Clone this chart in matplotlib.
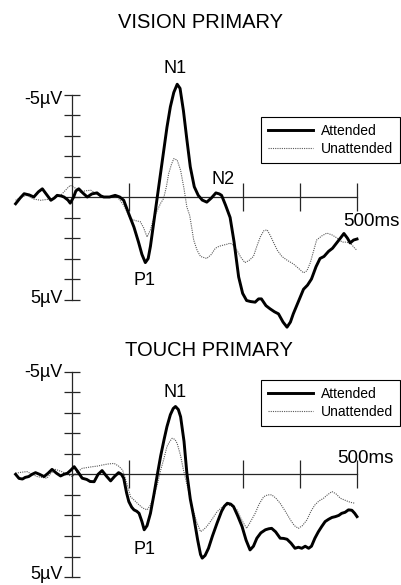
import numpy as np
import matplotlib
matplotlib.use("Agg")
import matplotlib.pyplot as plt

plt.rcParams['font.family'] = ['Liberation Sans', 'DejaVu Sans']

# ---- ERP waveforms (time in ms, amplitude in microvolts, negative up) ----
vis_att_t = [-100, -92, -85, -76, -68, -60, -53, -45, -38, -32, -27, -20, -15, -8, -4,
             2, 6, 11, 18, 26, 34, 43, 50, 55, 65, 75, 83, 90, 100, 108, 116, 122,
             128, 133, 137, 143, 149, 155, 161, 166, 172, 178, 184, 189, 195, 201,
             207, 214, 221, 228, 236, 244, 252, 258, 262, 269, 277, 284, 292, 299,
             306, 313, 321, 327, 332, 340, 347, 355, 362, 370, 377, 383, 388, 397,
             406, 413, 420, 428, 435, 442, 450, 457, 464, 471, 477, 483, 488, 494, 500]
vis_att_v = [0.33, 0.05, -0.16, -0.1, 0.0, -0.25, -0.4, -0.1, 0.16, 0.05, -0.08, -0.05,
             0.0, 0.15, 0.3, 0.0, -0.3, -0.4, -0.2, 0.0, -0.15, -0.2, -0.05, 0.0, 0.0,
             -0.08, 0.0, 0.16, 0.9, 1.47, 2.2, 2.8, 3.2, 3.0, 2.4, 1.2, 0.0, -1.2,
             -2.4, -3.4, -4.4, -5.1, -5.5, -5.3, -4.2, -2.8, -1.47, -0.5, -0.08, 0.15,
             0.25, 0.05, -0.2, -0.15, -0.08, 0.4, 1.0, 2.2, 3.9, 4.7, 5.05, 5.1, 5.13,
             4.97, 4.97, 5.3, 5.45, 5.6, 5.7, 6.1, 6.35, 6.1, 5.7, 5.1, 4.5, 4.3, 4.0,
             3.4, 3.0, 2.9, 2.65, 2.5, 2.25, 2.0, 1.78, 2.0, 2.24, 2.1, 2.05]

vis_un_t = [-100, -90, -80, -68, -56, -45, -33, -20, -10, -4, 4, 14, 22, 32, 40, 49, 60,
            79, 90, 102, 110, 119, 125, 131, 137, 143, 149, 155, 160, 165, 169, 174,
            178, 184, 190, 196, 201, 206, 213, 219, 225, 236, 244, 251, 258, 266, 272,
            277, 283, 289, 296, 303, 310, 318, 324, 330, 336, 342, 348, 353, 360, 368,
            378, 388, 398, 406, 412, 418, 424, 429, 438, 447, 456, 465, 474, 482, 490,
            496, 500]
vis_un_v = [0.16, 0.0, -0.08, 0.1, 0.16, 0.12, 0.08, -0.1, -0.4, -0.57, -0.45, -0.24,
            -0.3, -0.33, -0.2, 0.0, 0.0, 0.0, 0.4, 1.06, 1.15, 1.2, 1.5, 1.95, 1.6, 1.0,
            0.65, 0.3, 0.08, -0.5, -1.14, -1.6, -1.87, -1.8, -1.3, -0.4, 0.49, 0.9,
            2.1, 2.6, 2.9, 3.0, 2.8, 2.5, 2.4, 2.34, 2.3, 2.25, 2.35, 2.6, 2.95, 3.2,
            3.1, 2.9, 2.4, 1.95, 1.65, 1.6, 1.9, 2.2, 2.6, 2.9, 3.1, 3.26, 3.5, 3.7,
            3.6, 3.2, 2.6, 2.1, 1.9, 1.76, 1.85, 2.0, 2.2, 2.2, 2.3, 2.5, 2.6]

tch_att_t = [-100, -94, -88, -83, -77, -71, -65, -58, -50, -43, -36, -28, -21, -15, -9,
             -3, 3, 10, 17, 25, 31, 38, 45, 52, 60, 67, 74, 81, 86, 90, 95, 99, 104,
             108, 113, 117, 122, 126, 131, 137, 143, 149, 155, 161, 166, 172, 177, 181,
             186, 190, 196, 201, 207, 213, 220, 225, 228, 233, 239, 246, 254, 262, 267,
             272, 278, 283, 290, 298, 305, 312, 318, 324, 331, 339, 345, 350, 357, 365,
             371, 377, 384, 391, 397, 403, 409, 415, 420, 426, 432, 438, 444, 450, 456,
             462, 468, 473, 479, 485, 491, 496, 500]
tch_att_v = [0.0, 0.2, 0.23, 0.15, 0.11, 0.0, -0.08, 0.0, 0.11, -0.05, -0.24, -0.05, 0.08,
             0.0, -0.05, -0.2, -0.37, -0.1, 0.19, 0.25, 0.35, 0.36, 0.0, -0.18, 0.1, 0.32,
             0.1, -0.08, 0.0, 0.19, 0.9, 1.33, 1.6, 1.73, 1.8, 1.9, 2.3, 2.7, 2.5, 1.9,
             1.0, 0.03, -0.9, -1.7, -2.32, -2.9, -3.2, -3.3, -3.15, -2.8, -1.6, -0.05,
             1.2, 2.06, 3.2, 3.9, 4.08, 3.95, 3.6, 3.0, 2.38, 1.8, 1.55, 1.41, 1.45, 1.57,
             2.0, 2.54, 3.2, 3.68, 3.5, 3.11, 2.85, 2.7, 2.65, 2.63, 2.8, 3.11, 3.12, 3.16,
             3.35, 3.6, 3.55, 3.6, 3.5, 3.6, 3.5, 3.11, 2.8, 2.54, 2.3, 2.19, 2.1, 2.06,
             2.0, 1.9, 1.85, 1.73, 1.75, 1.9, 2.06]

tch_un_t = [-100, -90, -80, -71, -62, -54, -45, -38, -30, -21, -12, -6, 0, 8, 17, 26, 35,
            44, 52, 62, 73, 81, 88, 95, 102, 110, 117, 124, 131, 137, 143, 149, 155, 161,
            166, 171, 175, 180, 184, 190, 195, 203, 210, 218, 225, 230, 236, 245, 254,
            263, 272, 280, 289, 297, 306, 313, 321, 328, 336, 343, 350, 357, 365, 374,
            383, 390, 397, 404, 412, 419, 426, 433, 441, 448, 456, 463, 471, 478, 485,
            491, 497]
tch_un_v = [-0.05, -0.1, -0.13, 0.0, 0.11, 0.15, 0.19, -0.05, -0.24, -0.15, -0.05, 0.05,
            0.11, -0.1, -0.29, -0.33, -0.37, -0.4, -0.45, -0.5, -0.53, -0.4, -0.21, 0.4,
            1.09, 1.3, 1.49, 1.65, 1.73, 1.5, 1.09, 0.5, -0.21, -0.8, -1.35, -1.6, -1.75,
            -1.7, -1.5, -0.9, -0.21, 0.7, 1.57, 2.3, 2.79, 2.7, 2.54, 2.2, 1.82, 1.6,
            1.49, 1.55, 1.73, 2.2, 2.63, 2.3, 1.9, 1.45, 1.09, 1.0, 1.0, 1.15, 1.41,
            1.8, 2.22, 2.5, 2.63, 2.5, 2.22, 1.8, 1.49, 1.3, 1.17, 1.0, 0.84, 0.95, 1.17,
            1.25, 1.33, 1.38, 1.41]

time_ticks = [100, 300, 400, 500]

panels = [
    dict(title="VISION PRIMARY", att=(vis_att_t, vis_att_v), un=(vis_un_t, vis_un_v),
         peaks=[("N1", 180, -6.27), ("N2", 264, -0.85), ("P1", 127, 4.05)],
         ms_label=(525, 1.2), uv_labels=[(-4.78, "-5\u00b5V"), (4.95, "5\u00b5V")]),
    dict(title="TOUCH PRIMARY", att=(tch_att_t, tch_att_v), un=(tch_un_t, tch_un_v),
         peaks=[("N1", 181, -3.98), ("P1", 127, 3.68)],
         ms_label=(514, -0.77), uv_labels=[(-4.97, "-5\u00b5V"), (4.9, "5\u00b5V")]),
]

W, H = 401, 585
fig = plt.figure(figsize=(W / 100, H / 100), dpi=100)

# pixel layout of the two panels: (top px, bottom px, zero-line px, px per uV)
boxes = [(50, 335, 197.0, 20.5), (362, 585, 474.3, 20.55)]
legend_tops = [117, 380]
title_y = [23, 350.5]
title_x = [201, 209]

x0_px, px_per_ms = 72.5, 0.569
xlim = ((0 - x0_px) / px_per_ms, (W - x0_px) / px_per_ms)

for p, (top, bot, zero, ppu), ltop, ty, tx in zip(panels, boxes, legend_tops, title_y, title_x):
    ax = fig.add_axes([0, 1 - bot / H, 1, (bot - top) / H])
    ax.patch.set_visible(False)
    ax.set_xlim(*xlim)
    ax.set_ylim((bot - zero) / ppu, (top - zero) / ppu)

    ax.plot(*p["un"], color="0.35", lw=0.8, ls=(0, (1, 1)), label="Unattended", zorder=2)
    ax.plot(*p["att"], color="black", lw=2.1, solid_joinstyle="round",
            label="Attended", zorder=3)

    # axes drawn through the origin
    for s in ("top", "right"):
        ax.spines[s].set_visible(False)
    ax.spines["left"].set_position(("data", 0))
    ax.spines["bottom"].set_position(("data", 0))
    ax.spines["left"].set_bounds(-5, 5)
    ax.spines["bottom"].set_bounds(0, 500)
    for s in ("left", "bottom"):
        ax.spines[s].set_linewidth(0.9)
        ax.spines[s].set_color("0.15")
    ax.set_yticks(np.arange(-5, 6))
    ax.set_xticks(time_ticks)
    ax.tick_params(axis="y", direction="inout", length=11, width=0.9, color="0.15",
                   labelleft=False)
    ax.tick_params(axis="x", direction="inout", length=20, width=0.9, color="0.15",
                   labelbottom=False)

    for yv, txt in p["uv_labels"]:
        ax.text(-16.7, yv, txt, ha="right", va="center", fontsize=13)
    for name, tx_, ty_ in p["peaks"]:
        ax.text(tx_, ty_, name, ha="center", va="center", fontsize=13)
    ax.text(*p["ms_label"], "500ms", ha="center", va="center", fontsize=13.5)

    leg = ax.legend(handles=ax.get_lines()[::-1], loc="upper right",
                    bbox_to_anchor=(400 / W, 1 - ltop / H), bbox_transform=fig.transFigure,
                    borderaxespad=0, fancybox=False, edgecolor="black", framealpha=1,
                    fontsize=10, handlelength=3.2, handletextpad=0.6, borderpad=0.5,
                    labelspacing=0.3)
    leg.get_frame().set_linewidth(0.8)

    fig.text(tx / W, 1 - ty / H, p["title"], ha="center", va="center", fontsize=14.5)

fig.savefig("out.png", dpi=100)
